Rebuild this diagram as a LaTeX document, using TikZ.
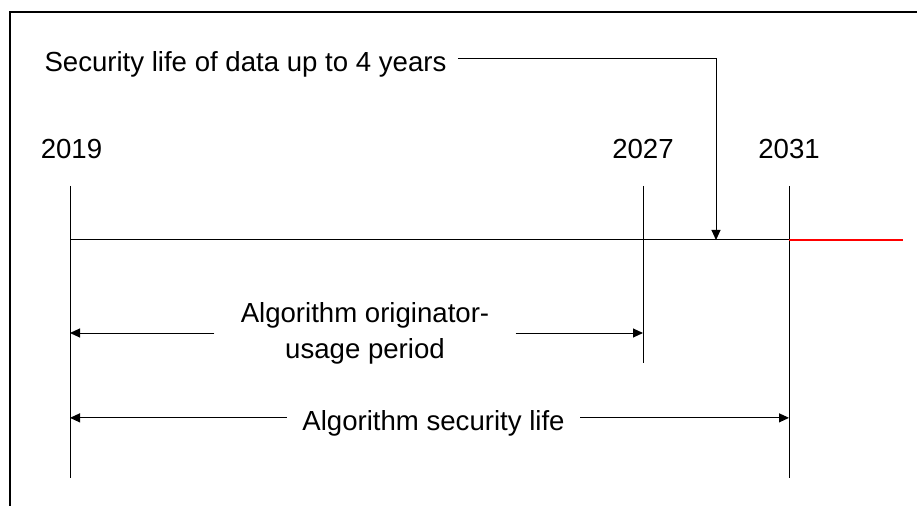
\documentclass[tikz,border=0pt]{standalone}
\usepackage{fontspec}
\setmainfont{Liberation Sans}
\usetikzlibrary{arrows.meta,positioning}
\tikzset{>/.tip={Triangle[length=10bp,width=9bp]}}
\newcommand\bigsize{\fontsize{27.7}{36}\selectfont}

\begin{document}
\begin{tikzpicture}[x=1bp,y=-1bp,font=\bigsize,line width=1bp]
        \useasboundingbox (0,0) rectangle (917,506);
        \draw[line width=2bp] (10,506) -- (10,12) -- (917,12);
        % ticks and time line
        \coordinate(t19) at (70,186);  \coordinate(b19) at (70,478);
        \coordinate(t27) at (643,186); \coordinate(b27) at (643,363);
        \coordinate(t31) at (789,186); \coordinate(b31) at (789,478);
        \coordinate(future) at (903,240);
        \coordinate(hit) at (716,240);
        \node(y19)[above=27bp of t19,inner sep=0pt,xshift=1.5bp]{2019};
        \node(y27)[above=27bp of t27,inner sep=0pt]{2027};
        \node(y31)[above=27bp of t31,inner sep=0pt]{2031};
        \draw (t19) -- (b19) (t27) -- (b27) (t31) -- (b31);
        \draw (t19 |- future) -- (t31 |- future);
        \draw[color=red,line width=1.3bp] (t31 |- future) -- (future);
        % labels
        \node(data)[anchor=base west,inner xsep=11bp] at (33,72){Security life of data up to 4 years};
        \node(orig)[align=center,inner xsep=26bp] at (365,333){Algorithm originator-\\usage period};
        \node(life)[anchor=base,inner xsep=15bp] at (433.5,430){Algorithm security life};
        \coordinate(dataR) at ([yshift=6bp]data.east);
        \coordinate(lifeL) at ([yshift=5bp]life.west);
        \coordinate(lifeR) at ([yshift=5bp]life.east);
        \draw[->] (dataR) -| (hit);
        \draw[->] (orig.west) -- (orig.west -| t19);
        \draw[->] (orig.east) -- (orig.east -| t27);
        \draw[->] (lifeL) -- (lifeL -| t19);
        \draw[->] (lifeR) -- (lifeR -| t31);
      \end{tikzpicture}
\end{document}
